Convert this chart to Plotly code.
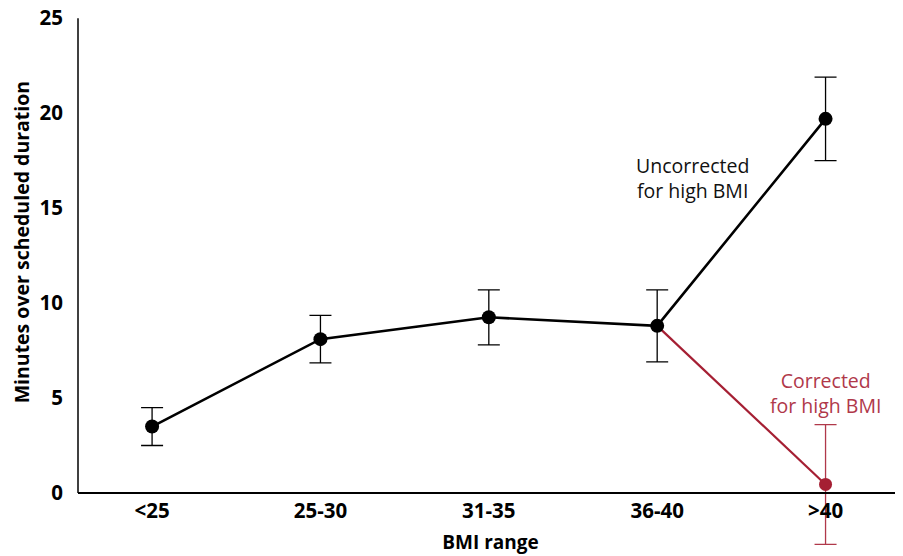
import plotly.graph_objects as go

categories = ["<25", "25-30", "31-35", "36-40", ">40"]
uncorrected = [3.5, 8.1, 9.25, 8.8, 19.7]
uncorrected_err = [1.0, 1.25, 1.45, 1.9, 2.2]
corrected_x = ["36-40", ">40"]
corrected = [8.8, 0.45]
corrected_err = [3.15]
y_ticks = [0, 5, 10, 15, 20, 25]

RED = "#a51f33"
RED_TEXT = "#b0384a"
FONT = "Open Sans"
Y_MIN, Y_MAX = -2.896, 25.01

fig = go.Figure()

# corrected line
fig.add_trace(go.Scatter(
    x=corrected_x, y=corrected, mode="lines",
    line=dict(color=RED, width=2.2),
    cliponaxis=False, showlegend=False, hoverinfo="skip"))
# corrected point with error bar
fig.add_trace(go.Scatter(
    x=corrected_x[-1:], y=corrected[-1:], mode="markers",
    marker=dict(size=13, color=RED),
    error_y=dict(type="data", array=corrected_err, color=RED_TEXT,
                 thickness=1.3, width=11),
    cliponaxis=False, showlegend=False, hoverinfo="skip"))

fig.add_trace(go.Scatter(
    x=categories, y=uncorrected, mode="lines+markers",
    line=dict(color="black", width=2.6),
    marker=dict(size=14, color="black"),
    error_y=dict(type="data", array=uncorrected_err, color="black",
                 thickness=1.3, width=11),
    cliponaxis=False, showlegend=False, hoverinfo="skip"))

fig.add_annotation(x=3.21, y=16.6, xref="x", yref="y",
                   text="Uncorrected<br>for high BMI", showarrow=False,
                   font=dict(family=FONT, size=19.5, color="#111111"), align="center")
fig.add_annotation(x=4.0, y=5.24, xref="x", yref="y",
                   text="Corrected<br>for high BMI", showarrow=False,
                   font=dict(family=FONT, size=19.5, color=RED_TEXT), align="center")

# y axis title
fig.add_annotation(x=-0.0691, y=13.25, xref="paper", yref="y", xanchor="center", yanchor="middle",
                   text="<b>Minutes over scheduled duration</b>", showarrow=False, textangle=-90,
                   font=dict(family=FONT, size=19.5, color="black"))

# y axis line from 0 to top only
fig.add_shape(type="line", xref="paper", yref="y", x0=0, x1=0, y0=0, y1=25,
              line=dict(color="black", width=1.5))

zero_pos = (0 - Y_MIN) / (Y_MAX - Y_MIN)

fig.update_layout(
    width=895, height=548,
    margin=dict(l=70, r=0, t=10, b=8),
    paper_bgcolor="white", plot_bgcolor="white",
    font=dict(family=FONT, size=19, color="black"),
    xaxis=dict(
        type="category", categoryorder="array", categoryarray=categories,
        range=[-0.44, 4.46], showline=True, linecolor="black", linewidth=1.5,
        anchor="free", position=zero_pos,
        showgrid=False, ticks="", ticklabelstandoff=0,
        tickfont=dict(family=FONT, size=20.5, color="black", weight="bold"),
        title=dict(text="<b>BMI range</b>", font=dict(family=FONT, size=19), standoff=11),
        automargin=False, zeroline=False),
    yaxis=dict(
        range=[Y_MIN, Y_MAX], tickvals=y_ticks, showline=False,
        showgrid=False, zeroline=False, ticks="", ticklabelstandoff=14,
        ticklabeloverflow="allow",
        tickfont=dict(family=FONT, size=20.5, color="black", weight="bold"),
        automargin=False),
)

fig.write_html("out.html")
